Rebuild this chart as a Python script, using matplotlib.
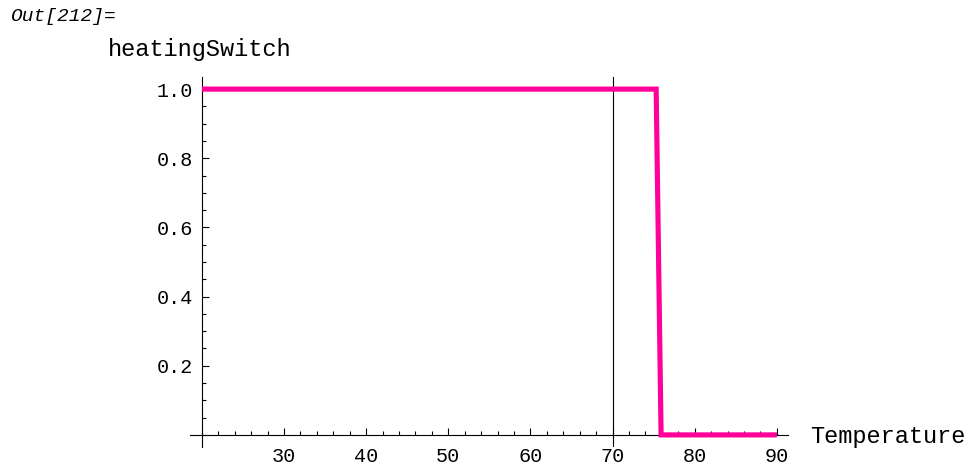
import matplotlib
matplotlib.use("Agg")
import matplotlib.pyplot as plt
from matplotlib.ticker import MultipleLocator, FixedLocator

# data
temperature = [20, 75.3, 75.9, 90]
heating_switch = [1, 1, 0, 0]
marker_temp = 70
x_ticks = [30, 40, 50, 60, 70, 80, 90]
y_ticks = [0.2, 0.4, 0.6, 0.8, 1.0]

W, H = 970, 465
fig = plt.figure(figsize=(W / 100, H / 100), dpi=100)
fig.patch.set_facecolor("white")

# axes box in pixels: x 18.55..91.35 -> 190..788, y -0.035..1.035 -> 447..77
left, right, top, bottom = 190.0, 788.0, 77.0, 447.0
ax = fig.add_axes([left / W, 1 - bottom / H, (right - left) / W, (bottom - top) / H])
ax.set_xlim(18.55, 91.35)
ax.set_ylim(-0.035, 1.035)
ax.patch.set_alpha(0)

mono = "Liberation Mono"

ax.plot(temperature, heating_switch, color="#ff0099", lw=3.7,
        solid_joinstyle="miter", solid_capstyle="butt", zorder=3)
ax.axvline(marker_temp, color="black", lw=0.8, zorder=2)

for s in ["top", "right"]:
    ax.spines[s].set_visible(False)
ax.spines["left"].set_position(("data", 20))
ax.spines["bottom"].set_position(("data", 0))
for s in ["left", "bottom"]:
    ax.spines[s].set_linewidth(0.8)

ax.xaxis.set_major_locator(FixedLocator(x_ticks))
ax.xaxis.set_minor_locator(MultipleLocator(2))
ax.yaxis.set_major_locator(FixedLocator(y_ticks))
ax.yaxis.set_minor_locator(MultipleLocator(0.05))
ax.set_yticklabels(["%.1f" % v for v in y_ticks])

ax.tick_params(which="both", direction="in", width=0.8, colors="black")
ax.tick_params(which="major", length=5, labelsize=14.5)
ax.tick_params(which="minor", length=3.2)
ax.tick_params(axis="x", which="major", pad=8.5)
ax.tick_params(axis="y", which="major", pad=6.5)
for lab in ax.get_xticklabels() + ax.get_yticklabels():
    lab.set_family(mono)

fig.text(108 / W, 1 - 56 / H, "heatingSwitch", family=mono, fontsize=17,
         va="baseline", ha="left")
fig.text(810 / W, 1 - 443 / H, "Temperature", family=mono, fontsize=17,
         va="baseline", ha="left")
fig.text(10 / W, 1 - 21 / H, "Out[212]=", family=mono, style="italic",
         fontsize=14, va="baseline", ha="left")

fig.savefig("out.png", dpi=100, facecolor="white")
